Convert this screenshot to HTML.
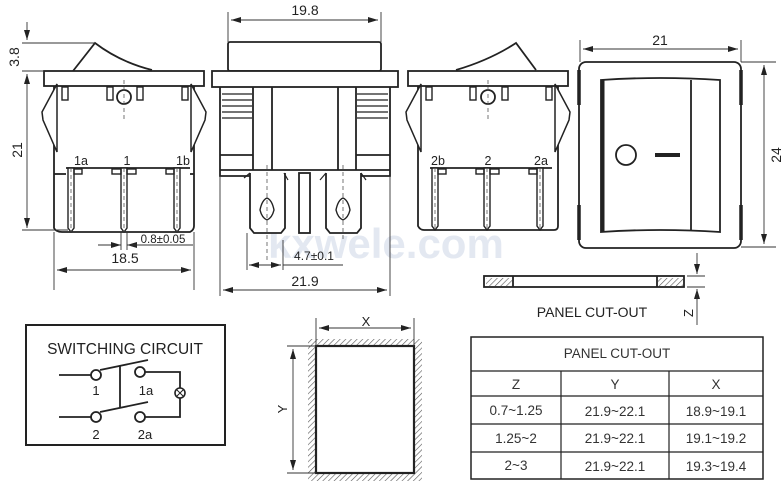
<!DOCTYPE html>
<html><head><meta charset="utf-8"><style>
html,body{margin:0;padding:0;background:#fff;}
svg{display:block;font-family:"Liberation Sans",sans-serif;}
</style></head><body>
<svg width="784" height="487" viewBox="0 0 784 487" xmlns="http://www.w3.org/2000/svg">
<defs>
<marker id="a" viewBox="0 0 10 6" refX="10" refY="3" markerWidth="10" markerHeight="6" orient="auto-start-reverse" markerUnits="userSpaceOnUse"><path d="M0,0 L10,3 L0,6 Z" fill="#222"/></marker>
<pattern id="h" width="4" height="4" patternUnits="userSpaceOnUse" patternTransform="rotate(45)"><line x1="0" y1="0" x2="0" y2="4" stroke="#555" stroke-width="1.2"/></pattern>
</defs>
<text x="268" y="258" font-size="42" fill="#e3e8f1" font-weight="bold">kxwele.com</text>
<g fill="none" stroke="#222" stroke-width="1.8">
<!-- LEFT SIDE VIEW -->
<path d="M73,71 L95,43 Q120,62 152,70"/>
<rect x="44" y="71" width="160" height="15" fill="#fff"/>
<path d="M54,86 L54,228 Q56,232 62,232 L190,232 Q194,230 194,226 L194,86"/>
<line x1="66" y1="168" x2="190" y2="168"/>
<line x1="54" y1="174" x2="66" y2="174"/><line x1="190" y1="174" x2="194" y2="174"/>
<path d="M57,84 L42,112 L43,120 L57,152 Z" fill="#fff" stroke-width="1.5"/>
<path d="M191,84 L206,112 L205,120 L191,152 Z" fill="#fff" stroke-width="1.5"/>
<rect x="62" y="87" width="6" height="13" stroke-width="1.4"/><rect x="107" y="87" width="6" height="13" stroke-width="1.4"/>
<rect x="137" y="87" width="6" height="13" stroke-width="1.4"/><rect x="182" y="87" width="6" height="13" stroke-width="1.4"/>
<circle cx="124" cy="97" r="7"/>
<g stroke-width="1.4">
<path d="M68,168 L68,228 L71,232 L74,228 L74,168 Z" fill="#fff"/>
<path d="M121,168 L121,228 L124,232 L127,228 L127,168 Z" fill="#fff"/>
<path d="M174,168 L174,228 L177,232 L180,228 L180,168 Z" fill="#fff"/>
<rect x="74" y="169" width="8" height="5"/><rect x="112" y="169" width="9" height="5"/><rect x="127" y="169" width="9" height="5"/><rect x="166" y="169" width="8" height="5"/>
</g>
<!-- MIDDLE VIEW -->
<rect x="228" y="42" width="153" height="29" rx="2"/>
<rect x="212" y="71" width="186" height="16" fill="#fff"/>
<path d="M220,87 L220,176 L250,176 M361,176 L390,176 L390,87"/>
<line x1="253" y1="87" x2="253" y2="170"/><line x1="272" y1="87" x2="272" y2="170"/>
<line x1="338" y1="87" x2="338" y2="170"/><line x1="356" y1="87" x2="356" y2="170"/>
<line x1="220" y1="170" x2="390" y2="170"/>
<line x1="220" y1="155" x2="253" y2="155"/><line x1="356" y1="155" x2="390" y2="155"/>
<g stroke-width="1.2">
<line x1="222" y1="94" x2="252" y2="94"/><line x1="222" y1="100" x2="252" y2="100"/><line x1="222" y1="106" x2="252" y2="106"/><line x1="222" y1="112" x2="252" y2="112"/><line x1="222" y1="118" x2="252" y2="118"/>
<line x1="357" y1="94" x2="388" y2="94"/><line x1="357" y1="100" x2="388" y2="100"/><line x1="357" y1="106" x2="388" y2="106"/><line x1="357" y1="112" x2="388" y2="112"/><line x1="357" y1="118" x2="388" y2="118"/>
</g>
<path d="M250,173 L250,228 L254,233 L281,233 L285,228 L285,173" fill="#fff"/>
<path d="M326,173 L326,228 L330,233 L357,233 L361,228 L361,173" fill="#fff"/>
<rect x="299" y="173" width="11" height="60"/>
<path d="M267,198 Q262,200 260,210 Q262,218 267,220 Q272,218 274,210 Q272,200 267,198 Z" stroke-width="1.4"/>
<path d="M343,198 Q338,200 336,210 Q338,218 343,220 Q348,218 350,210 Q348,200 343,198 Z" stroke-width="1.4"/>
<path d="M244,178 L250,173 M288,180 L284,173 M320,180 L326,173 M366,180 L361,173" stroke-width="1.2"/>
<!-- RIGHT SIDE VIEW -->
<path d="M456,70 Q490,60 516,43 L536,70"/>
<rect x="408" y="71" width="160" height="15" fill="#fff"/>
<path d="M418,86 L418,226 Q420,230 424,230 L554,230 Q558,230 558,226 L558,86"/>
<line x1="430" y1="168" x2="552" y2="168"/>
<path d="M421,84 L406,112 L407,120 L421,152 Z" fill="#fff" stroke-width="1.5"/>
<path d="M555,84 L570,112 L569,120 L555,152 Z" fill="#fff" stroke-width="1.5"/>
<rect x="426" y="87" width="6" height="13" stroke-width="1.4"/><rect x="470" y="87" width="6" height="13" stroke-width="1.4"/>
<rect x="502" y="87" width="6" height="13" stroke-width="1.4"/><rect x="546" y="87" width="6" height="13" stroke-width="1.4"/>
<circle cx="488" cy="97" r="7"/>
<g stroke-width="1.4">
<path d="M432,168 L432,226 L435,230 L438,226 L438,168 Z" fill="#fff"/>
<path d="M484,168 L484,226 L487,230 L490,226 L490,168 Z" fill="#fff"/>
<path d="M537,168 L537,226 L540,230 L543,226 L543,168 Z" fill="#fff"/>
<rect x="438" y="169" width="8" height="5"/><rect x="476" y="169" width="8" height="5"/><rect x="490" y="169" width="9" height="5"/><rect x="529" y="169" width="8" height="5"/>
</g>
<!-- FRONT VIEW -->
<rect x="579" y="62" width="162" height="186" rx="7"/>
<path d="M601,80 Q660,76 720,80 L720,232 Q660,228 601,232 Z"/>
<line x1="691" y1="80" x2="691" y2="231"/>
<line x1="603" y1="80" x2="603" y2="232" stroke-width="3"/>
<circle cx="626" cy="155" r="10"/>
<rect x="655" y="153" width="25" height="4" fill="#222" stroke="none"/>
<path d="M579,70 L579,105 M741,70 L741,105 M579,205 L579,240 M741,205 L741,240" stroke-width="3.5"/>
<!-- panel side -->
<rect x="484" y="276" width="200" height="11"/>
<rect x="486" y="278" width="26" height="8" fill="url(#h)" stroke="none"/>
<rect x="658" y="278" width="25" height="8" fill="url(#h)" stroke="none"/>
<line x1="513" y1="276" x2="513" y2="287"/><line x1="657" y1="276" x2="657" y2="287"/>
<!-- switching circuit -->
<rect x="26" y="325" width="199" height="120" stroke-width="2"/>
<circle cx="96" cy="375" r="5"/><circle cx="140" cy="372" r="5"/>
<circle cx="96" cy="417" r="5"/><circle cx="140" cy="417" r="5"/>
<line x1="59" y1="375" x2="91" y2="375"/><line x1="59" y1="417" x2="91" y2="417"/>
<line x1="100" y1="370" x2="148" y2="360"/><line x1="100" y1="412" x2="148" y2="402"/>
<line x1="120" y1="366" x2="120" y2="408"/>
<path d="M145,372 L180,372 L180,388 M180,398 L180,417 L145,417"/>
<circle cx="180" cy="393" r="5" stroke-width="1.6"/>
<path d="M177,390 L183,396 M183,390 L177,396" stroke-width="1"/>
<!-- cutout -->
<rect x="308" y="339" width="114" height="142" fill="url(#h)" stroke="none"/>
<rect x="316" y="346" width="98" height="127" fill="#fff" stroke-width="2.2"/>
<!-- table -->
<rect x="471" y="337" width="292" height="142" stroke-width="1.5"/>
<g stroke-width="1.2">
<line x1="471" y1="371" x2="763" y2="371"/><line x1="471" y1="396" x2="763" y2="396"/>
<line x1="471" y1="424" x2="763" y2="424"/><line x1="471" y1="452" x2="763" y2="452"/>
<line x1="561" y1="371" x2="561" y2="479"/><line x1="669" y1="371" x2="669" y2="479"/>
</g>
</g>
<!-- dashed centerlines -->
<g stroke="#555" stroke-width="0.8" stroke-dasharray="4,3" fill="none">
<line x1="124" y1="80" x2="124" y2="120"/><line x1="488" y1="80" x2="488" y2="120"/>
<line x1="267" y1="165" x2="267" y2="262"/><line x1="343" y1="165" x2="343" y2="240"/>
<line x1="71" y1="168" x2="71" y2="232"/><line x1="124" y1="168" x2="124" y2="232"/><line x1="177" y1="168" x2="177" y2="232"/>
<line x1="435" y1="168" x2="435" y2="230"/><line x1="487" y1="168" x2="487" y2="230"/><line x1="540" y1="168" x2="540" y2="230"/>
</g>
<!-- dimension lines -->
<g stroke="#333" stroke-width="0.9" fill="none">
<line x1="27" y1="22" x2="27" y2="40" marker-end="url(#a)"/>
<line x1="27" y1="74" x2="27" y2="228" marker-start="url(#a)" marker-end="url(#a)"/>
<line x1="22" y1="43" x2="95" y2="43"/><line x1="22" y1="71" x2="44" y2="71"/><line x1="22" y1="230" x2="68" y2="230"/>
<line x1="54" y1="232" x2="54" y2="290"/><line x1="194" y1="232" x2="194" y2="290"/>
<line x1="57" y1="270" x2="191" y2="270" marker-start="url(#a)" marker-end="url(#a)"/>
<line x1="98" y1="245" x2="121" y2="245" marker-end="url(#a)"/><line x1="140" y1="245" x2="127" y2="245" marker-end="url(#a)"/>
<line x1="121" y1="232" x2="121" y2="250"/><line x1="127" y1="232" x2="127" y2="250"/>
<line x1="127" y1="245" x2="193" y2="245"/>
<line x1="228" y1="12" x2="228" y2="42"/><line x1="381" y1="12" x2="381" y2="42"/>
<line x1="231" y1="20" x2="378" y2="20" marker-start="url(#a)" marker-end="url(#a)"/>
<line x1="220" y1="176" x2="220" y2="296"/><line x1="390" y1="176" x2="390" y2="296"/>
<line x1="223" y1="290" x2="387" y2="290" marker-start="url(#a)" marker-end="url(#a)"/>
<line x1="247" y1="233" x2="247" y2="270"/><line x1="283" y1="240" x2="283" y2="270"/>
<line x1="249" y1="265" x2="281" y2="265" marker-start="url(#a)" marker-end="url(#a)"/>
<line x1="283" y1="265" x2="343" y2="265"/>
<line x1="580" y1="40" x2="580" y2="62"/><line x1="741" y1="40" x2="741" y2="62"/>
<line x1="583" y1="49" x2="738" y2="49" marker-start="url(#a)" marker-end="url(#a)"/>
<line x1="741" y1="62" x2="776" y2="62"/><line x1="741" y1="247" x2="776" y2="247"/>
<line x1="764" y1="65" x2="764" y2="244" marker-start="url(#a)" marker-end="url(#a)"/>
<line x1="697" y1="253" x2="697" y2="274" marker-end="url(#a)"/>
<line x1="697" y1="300" x2="697" y2="289" marker-end="url(#a)"/>
<line x1="697" y1="289" x2="697" y2="325"/>
<line x1="687" y1="276" x2="705" y2="276"/><line x1="687" y1="287" x2="705" y2="287"/>
<line x1="316" y1="318" x2="316" y2="346"/><line x1="414" y1="318" x2="414" y2="346"/>
<line x1="319" y1="328" x2="411" y2="328" marker-start="url(#a)" marker-end="url(#a)"/>
<line x1="287" y1="346" x2="316" y2="346"/><line x1="287" y1="473" x2="316" y2="473"/>
<line x1="293" y1="349" x2="293" y2="470" marker-start="url(#a)" marker-end="url(#a)"/>
</g>
<!-- text -->
<g fill="#222" font-size="14">
<text x="305" y="15" text-anchor="middle">19.8</text>
<text x="305" y="286" text-anchor="middle">21.9</text>
<text x="125" y="263" text-anchor="middle">18.5</text>
<text x="660" y="45" text-anchor="middle">21</text>
<text transform="translate(19,57) rotate(-90)" text-anchor="middle">3.8</text>
<text transform="translate(22,150) rotate(-90)" text-anchor="middle">21</text>
<text transform="translate(781,155) rotate(-90)" text-anchor="middle">24</text>
<text transform="translate(693,313) rotate(-90)" text-anchor="middle" font-size="13">Z</text>
<text x="592" y="317" text-anchor="middle" font-size="14">PANEL CUT-OUT</text>
<text x="366" y="326" text-anchor="middle" font-size="13">X</text>
<text transform="translate(287,409) rotate(-90)" text-anchor="middle" font-size="13">Y</text>
<text x="125" y="354" text-anchor="middle" font-size="15.5">SWITCHING CIRCUIT</text>
</g>
<g fill="#222" font-size="12.5" text-anchor="middle">
<text x="81" y="165">1a</text><text x="127" y="165">1</text><text x="183" y="165">1b</text>
<text x="438" y="165">2b</text><text x="488" y="165">2</text><text x="541" y="165">2a</text>
<text x="163" y="243" font-size="11.5">0.8±0.05</text>
<text x="314" y="260" font-size="12">4.7±0.1</text>
<text x="96" y="395" font-size="13">1</text><text x="146" y="395" font-size="13">1a</text>
<text x="96" y="439" font-size="13">2</text><text x="145" y="439" font-size="13">2a</text>
</g>
<g fill="#333" font-size="13.5" text-anchor="middle">
<text x="617" y="358">PANEL CUT-OUT</text>
<text x="516" y="389">Z</text><text x="615" y="389">Y</text><text x="716" y="389">X</text>
<text x="516" y="415">0.7~1.25</text><text x="615" y="416">21.9~22.1</text><text x="716" y="416">18.9~19.1</text>
<text x="516" y="443">1.25~2</text><text x="615" y="443">21.9~22.1</text><text x="716" y="443">19.1~19.2</text>
<text x="516" y="470">2~3</text><text x="615" y="471">21.9~22.1</text><text x="716" y="471">19.3~19.4</text>
</g>
</svg>
</body></html>
